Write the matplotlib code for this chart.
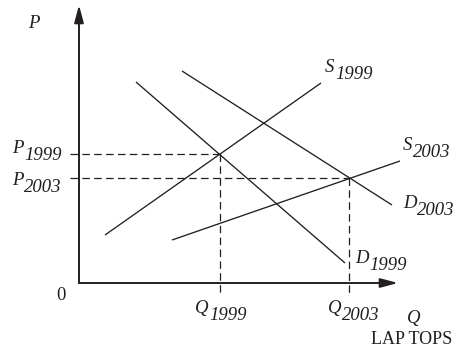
import matplotlib.pyplot as plt

plt.rcParams['font.family'] = ['Liberation Serif', 'DejaVu Serif']

# end points of each curve, quantity / price (axis units)
s1999_q = [26, 242]
s1999_p = [48, 200]
d1999_q = [57, 266]
d1999_p = [201, 20]
d2003_q = [103, 313]
d2003_p = [212, 78]
s2003_q = [93, 321]
s2003_p = [43, 122]

# equilibrium points
eq_q = [141, 270]
eq_p = [129, 105]
years = ['1999', '2003']

ink = '#231f20'
fs = 13.5

fig = plt.figure(figsize=(4.64, 3.58), dpi=100)
ax = fig.add_axes([0, 0, 1, 1])
ax.set_xlim(-79, 385)
ax.set_ylim(-75, 283)
ax.axis('off')

# axes with arrow heads
arrow = dict(arrowstyle='-|>,head_length=0.75,head_width=0.2', lw=1.4,
             color=ink, mutation_scale=14, shrinkA=0, shrinkB=0)
ax.annotate('', xy=(0, 278), xytext=(0, 0), arrowprops=arrow)
ax.annotate('', xy=(319, 0), xytext=(0, 0), arrowprops=arrow)

for q, p in [(s1999_q, s1999_p), (d1999_q, d1999_p),
             (d2003_q, d2003_p), (s2003_q, s2003_p)]:
    ax.plot(q, p, color=ink, lw=0.95, solid_capstyle='butt')

# dashed guides to the axes
for q, p in zip(eq_q, eq_p):
    ax.plot([-9, q], [p, p], color=ink, lw=0.9, dashes=(6, 3.5))
    ax.plot([q, q], [p, -12], color=ink, lw=0.9, dashes=(6, 3.5))


def label(x, y, main, sub=None):
    t = ax.text(x, y, main, fontsize=fs, style='italic', color=ink,
                va='baseline')
    if sub:
        ax.annotate(sub, xy=(1, 0), xycoords=t, xytext=(0.5, -2),
                    textcoords='offset points', fontsize=fs,
                    style='italic', color=ink, va='baseline')


label(-51, 255, 'P')
label(-67, 130, 'P', years[0])
label(-67, 98, 'P', years[1])
label(246, 211, 'S', years[0])
label(324, 133, 'S', years[1])
label(324, 75, 'D', years[1])
label(276, 20, 'D', years[0])
label(116, -30, 'Q', years[0])
label(249, -30, 'Q', years[1])
label(328, -40, 'Q')

ax.text(-18, -12, '0', fontsize=fs, color=ink, ha='center', va='center')
ax.text(333, -56, 'LAP TOPS', fontsize=13, color=ink,
        ha='center', va='center')

fig.savefig('out.png', dpi=100)
